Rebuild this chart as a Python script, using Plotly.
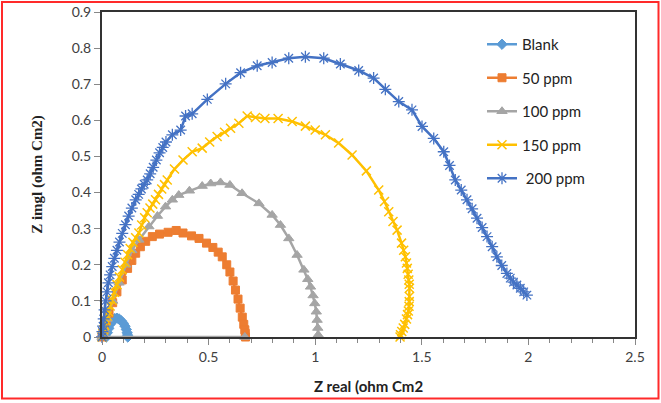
import plotly.graph_objects as go

# ---- data ----
blank_x = [0.02, 0.025, 0.032, 0.04, 0.05, 0.06, 0.07, 0.08, 0.09, 0.1, 0.108, 0.114, 0.118, 0.12, 0.121]
blank_y = [0.0, 0.012, 0.024, 0.036, 0.045, 0.051, 0.052, 0.05, 0.045, 0.038, 0.03, 0.021, 0.012, 0.005, 0.0]

p50_x = [0.0, 0.005, 0.01, 0.02, 0.033, 0.05, 0.07, 0.095, 0.12, 0.14, 0.158, 0.18, 0.205, 0.236, 0.27,
         0.31, 0.348, 0.38, 0.42, 0.455, 0.49, 0.52, 0.545, 0.564, 0.585, 0.6, 0.615, 0.626, 0.638,
         0.648, 0.658, 0.665, 0.67, 0.672, 0.673]
p50_y = [0.0, 0.01, 0.02, 0.045, 0.066, 0.095, 0.125, 0.158, 0.19, 0.212, 0.232, 0.25, 0.265, 0.278, 0.285,
         0.29, 0.295, 0.288, 0.28, 0.273, 0.26, 0.248, 0.235, 0.222, 0.2, 0.18, 0.155, 0.13, 0.105,
         0.08, 0.055, 0.035, 0.02, 0.01, 0.0]

p100_x = [0.67, 0.0, 0.005, 0.01, 0.025, 0.05, 0.08, 0.112, 0.14, 0.173, 0.22, 0.26, 0.298, 0.33, 0.36,
          0.41, 0.47, 0.51, 0.556, 0.6, 0.657, 0.736, 0.798, 0.837, 0.876, 0.915, 0.947, 0.965, 0.978,
          0.99, 0.998, 1.005, 1.009, 1.012, 1.014]
p100_y = [0.0, 0.0, 0.01, 0.02, 0.05, 0.1, 0.15, 0.2, 0.24, 0.269, 0.306, 0.335, 0.361, 0.38, 0.393,
          0.405, 0.418, 0.425, 0.428, 0.421, 0.398, 0.37, 0.338, 0.31, 0.273, 0.227, 0.186, 0.16, 0.139,
          0.115, 0.093, 0.07, 0.047, 0.025, 0.006]

p150_x = [0.0, 0.004, 0.008, 0.013, 0.018, 0.024, 0.03, 0.038, 0.048, 0.058, 0.07, 0.082, 0.095, 0.108,
          0.12, 0.132, 0.145, 0.158, 0.173, 0.186, 0.2, 0.212, 0.225, 0.238, 0.251, 0.265, 0.28, 0.293,
          0.306, 0.34, 0.38, 0.423, 0.47, 0.505, 0.54, 0.575, 0.603, 0.642, 0.681, 0.72, 0.764, 0.826,
          0.892, 0.954, 1.0, 1.048, 1.11, 1.173, 1.24, 1.298, 1.325, 1.345, 1.365, 1.384, 1.405, 1.415,
          1.423, 1.428, 1.432, 1.436, 1.439, 1.441, 1.442, 1.442, 1.441, 1.44, 1.437, 1.433, 1.428, 1.42,
          1.413, 1.406, 1.4, 1.398]
p150_y = [0.0, 0.01, 0.02, 0.032, 0.045, 0.058, 0.07, 0.086, 0.102, 0.124, 0.145, 0.166, 0.186, 0.207,
          0.228, 0.245, 0.262, 0.275, 0.288, 0.31, 0.33, 0.344, 0.357, 0.368, 0.38, 0.395, 0.41, 0.422,
          0.435, 0.465, 0.49, 0.513, 0.523, 0.54, 0.555, 0.567, 0.578, 0.592, 0.612, 0.608, 0.605, 0.605,
          0.597, 0.584, 0.573, 0.56, 0.537, 0.504, 0.46, 0.407, 0.375, 0.347, 0.32, 0.296, 0.26, 0.24,
          0.222, 0.205, 0.19, 0.174, 0.158, 0.146, 0.135, 0.112, 0.098, 0.085, 0.072, 0.062, 0.05, 0.035,
          0.025, 0.015, 0.006, 0.0]

p200_x = [0.0, 0.002, 0.005, 0.008, 0.012, 0.017, 0.023, 0.03, 0.038, 0.048, 0.058, 0.07, 0.082, 0.095,
          0.11, 0.125, 0.14, 0.158, 0.172, 0.185, 0.198, 0.212, 0.226, 0.24, 0.255, 0.27, 0.285, 0.3,
          0.33, 0.369, 0.392, 0.423, 0.494, 0.58, 0.65, 0.728, 0.798, 0.876, 0.954, 1.04, 1.118, 1.204,
          1.274, 1.329, 1.392, 1.454, 1.501, 1.556, 1.603, 1.63, 1.657, 1.685, 1.712, 1.736, 1.759, 1.783,
          1.806, 1.83, 1.852, 1.875, 1.899, 1.915, 1.93, 1.946, 1.962, 1.978, 1.993]
p200_y = [0.0, 0.015, 0.03, 0.05, 0.075, 0.1, 0.125, 0.15, 0.172, 0.195, 0.218, 0.24, 0.263, 0.287,
          0.311, 0.335, 0.357, 0.38, 0.395, 0.41, 0.423, 0.435, 0.452, 0.47, 0.49, 0.51, 0.525, 0.54,
          0.56, 0.573, 0.612, 0.618, 0.658, 0.701, 0.732, 0.751, 0.76, 0.772, 0.776, 0.772, 0.756, 0.738,
          0.717, 0.686, 0.652, 0.629, 0.583, 0.55, 0.513, 0.475, 0.435, 0.407, 0.38, 0.355, 0.329, 0.303,
          0.278, 0.25, 0.222, 0.198, 0.176, 0.163, 0.152, 0.144, 0.135, 0.125, 0.116]

x_ticks = [0, 0.5, 1, 1.5, 2, 2.5]
y_ticks = [0, 0.1, 0.2, 0.3, 0.4, 0.5, 0.6, 0.7, 0.8, 0.9]

series = [
    ("Blank", blank_x, blank_y, "#5B9BD5", "diamond", 8, 1),
    ("50 ppm", p50_x, p50_y, "#ED7D31", "square", 8, 1),
    ("100 ppm", p100_x, p100_y, "#A5A5A5", "triangle-up", 9, 1),
    ("150 ppm", p150_x, p150_y, "#FFC000", "x-thin-open", 9, 1.5),
    (" 200 ppm", p200_x, p200_y, "#4472C4", "asterisk-open", 10, 1.3),
]

fig = go.Figure()
for i, (name, xs, ys, color, sym, size, lw) in enumerate(series):
    fig.add_trace(go.Scatter(
        x=xs, y=ys, name=name, mode="lines+markers",
        line=dict(color=color, width=2.5),
        marker=dict(symbol=sym, size=size, color=color, line=dict(color=color, width=lw)),
        cliponaxis=False, legendgroup=str(i),
    ))

W, H = 661, 403
L, R, T, B = 102, 26, 12, 66
pw, ph = W - L - R, H - T - B

def px(x):
    return (x - L) / pw

def py(y):
    return (H - B - y) / ph

fig.add_shape(type="rect", xref="paper", yref="paper",
              x0=px(2), x1=px(658.5), y0=py(398.5), y1=py(2),
              line=dict(color="#FF2A2A", width=2), layer="above")

tickfont = dict(family="Lato, Liberation Sans, sans-serif", size=14, color="#404040")
fig.update_layout(
    width=W, height=H,
    margin=dict(l=L, r=R, t=T, b=B, autoexpand=False),
    paper_bgcolor="white", plot_bgcolor="white",
    showlegend=True,
    legend=dict(x=px(482), y=py(28), xanchor="left", yanchor="top",
                font=dict(family="Lato, Liberation Sans, sans-serif", size=15, color="#222"),
                tracegroupgap=11, bgcolor="rgba(0,0,0,0)"),
    xaxis=dict(range=[0, 2.5], tickvals=x_ticks, ticktext=[str(v) for v in x_ticks],
               automargin=False,
               showgrid=False, zeroline=False, showline=True, linecolor="#333", linewidth=2,
               mirror=True, ticks="outside", ticklen=6, tickcolor="#888", tickwidth=1,
               minor=dict(dtick=0.1, ticks="outside", ticklen=4, tickcolor="#888"),
               tickfont=tickfont,
               title=dict(text="<b>Z real (ohm Cm2</b>", standoff=18,
                          font=dict(family="Lato, Liberation Sans, sans-serif", size=15, color="#222"))),
    yaxis=dict(range=[0, 0.9], tickvals=y_ticks, ticktext=[("%g" % v) for v in y_ticks],
               automargin=False,
               showgrid=False, zeroline=False, showline=True, linecolor="#333", linewidth=2,
               mirror=True, ticks="outside", ticklen=6, tickcolor="#888", tickwidth=1,
               tickfont=tickfont,
               title=dict(text="<b>Z imgl (ohm Cm2)</b>", standoff=25,
                          font=dict(family="Liberation Serif, serif", size=15, color="#222"))),
)

fig.write_html("out.html", config={"displayModeBar": False},
               post_script="document.body.style.margin='0';")
